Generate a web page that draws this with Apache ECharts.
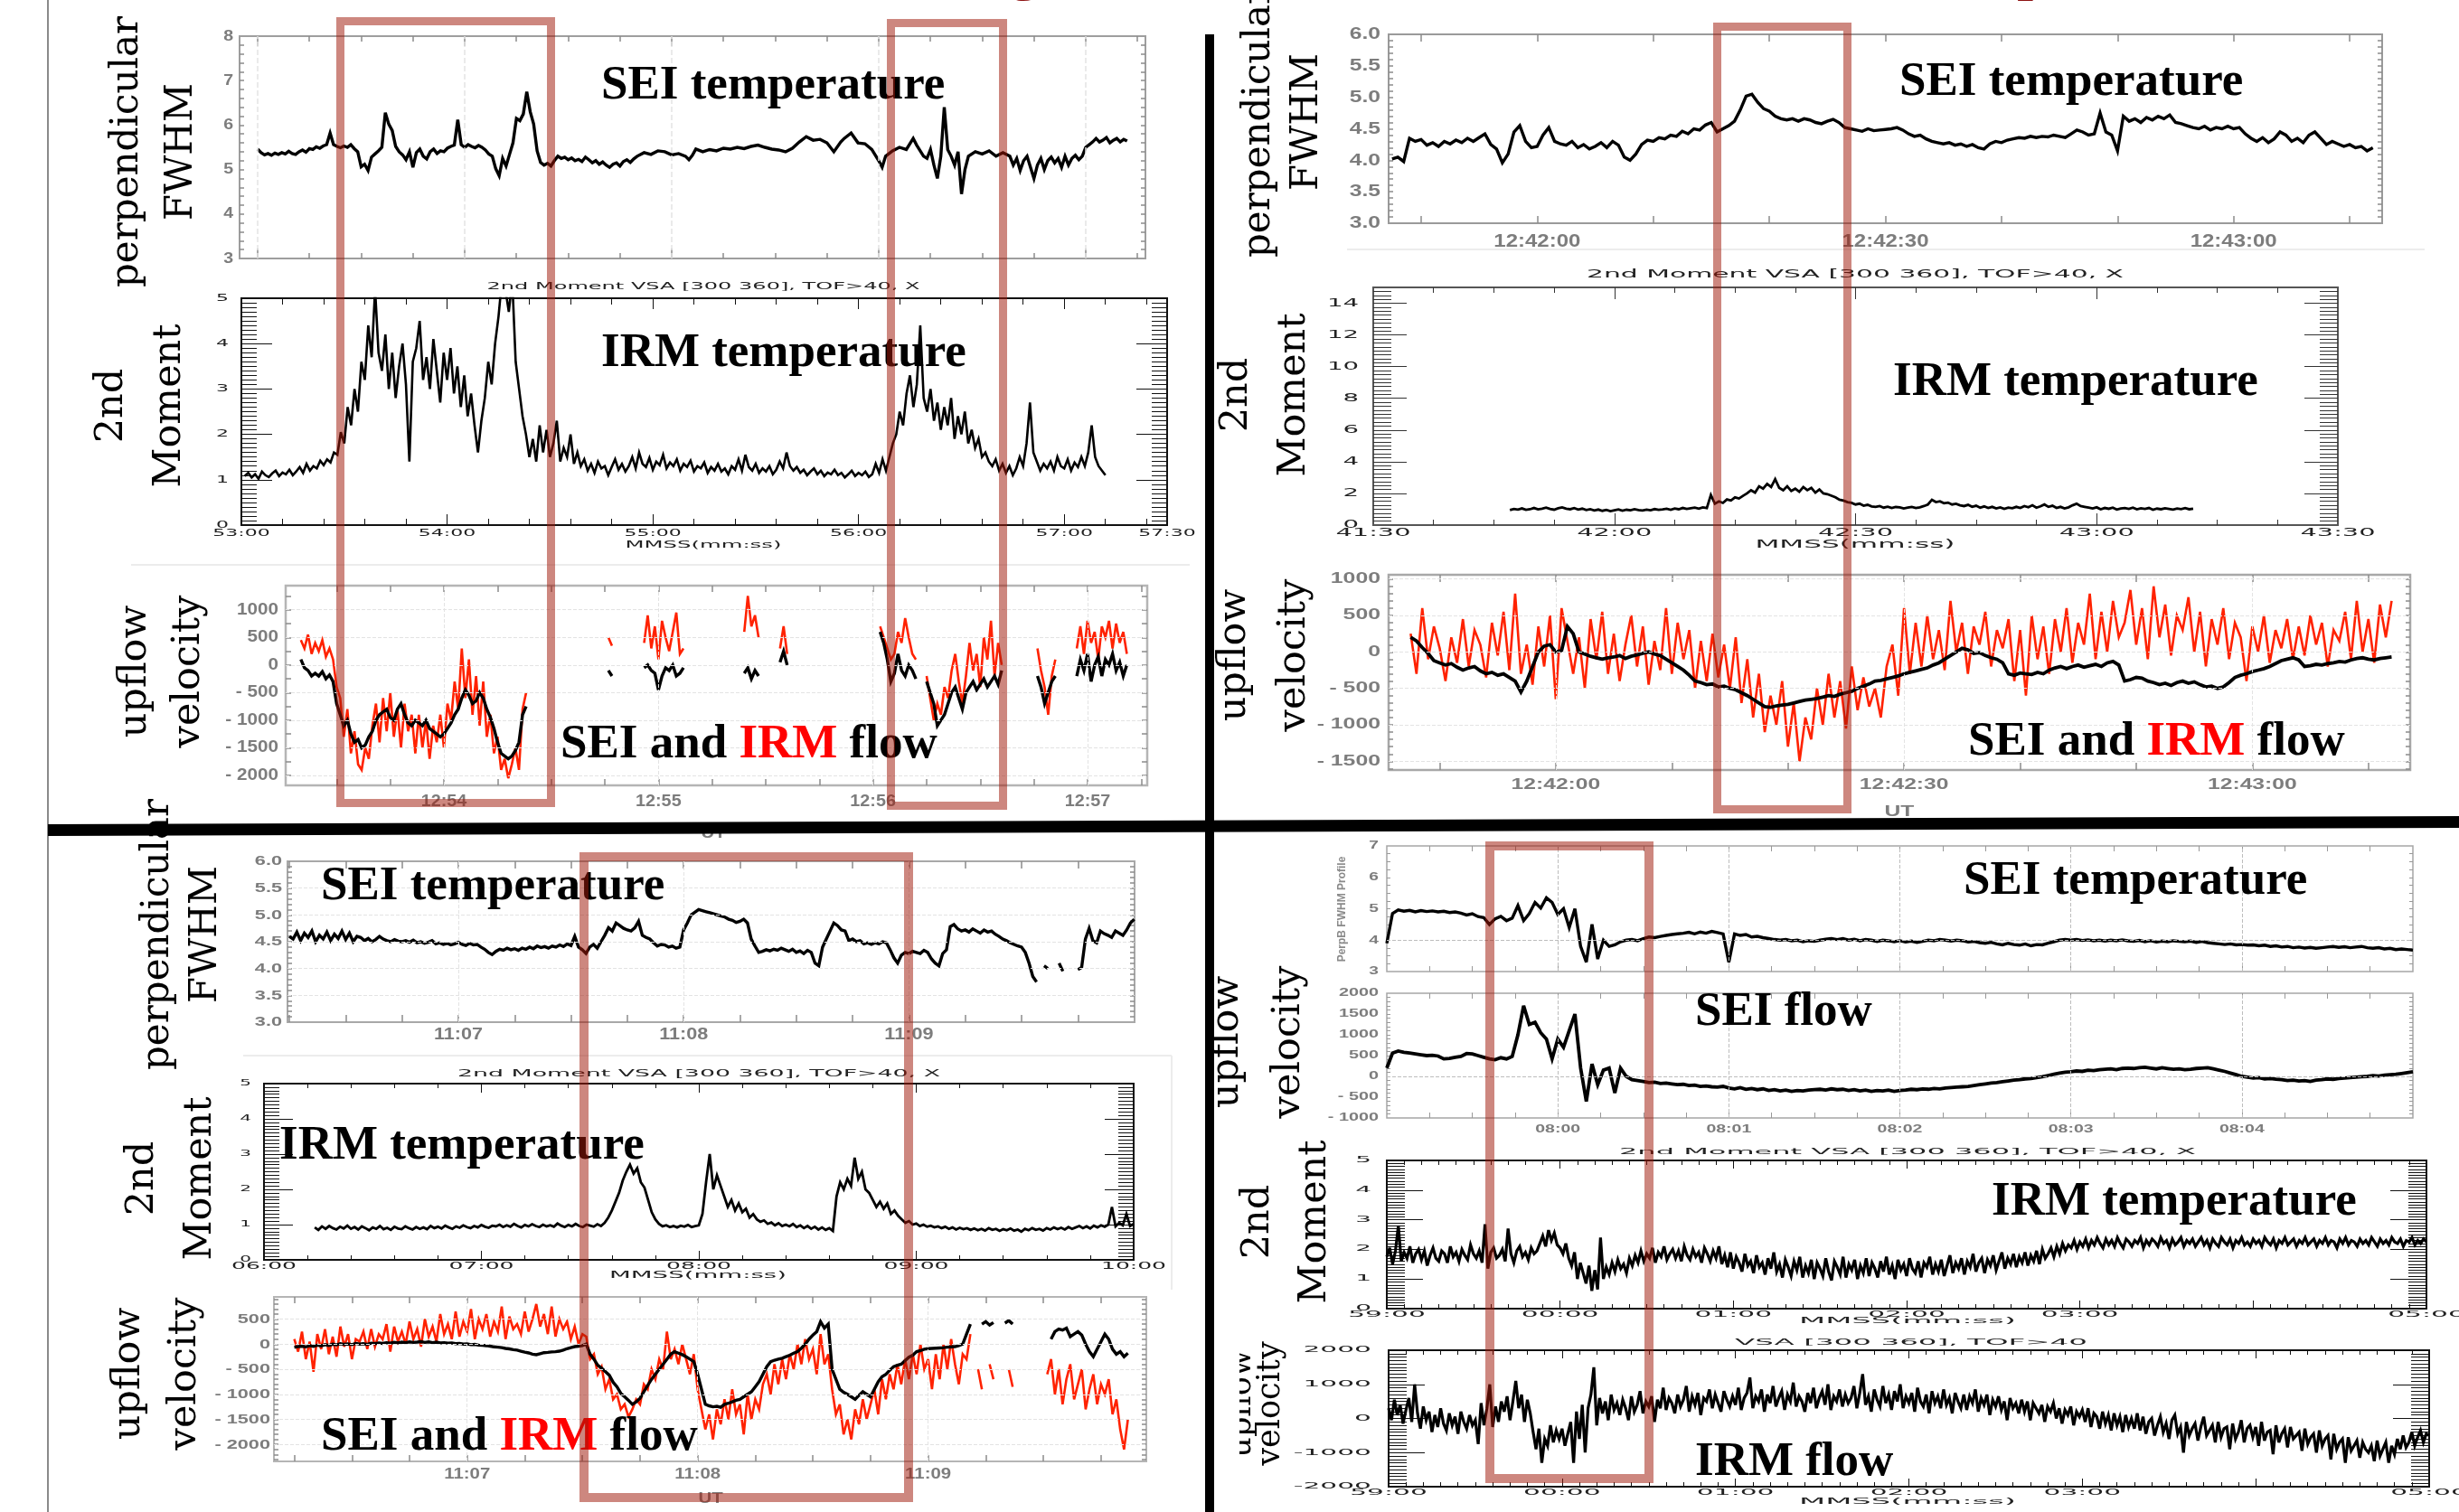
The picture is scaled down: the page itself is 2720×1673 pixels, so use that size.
<!DOCTYPE html>
<html>
<head>
<meta charset="utf-8">
<script src="https://cdn.jsdelivr.net/npm/echarts@6/dist/echarts.min.js"></script>
<style>
  html, body { margin: 0; padding: 0; background: #ffffff; }
  #chart { width: 2720px; height: 1673px; }
</style>
</head>
<body>
<div id="chart"></div>
<script>
// ===================== DATA =====================
// Times are seconds after each panel's reference minute.

// --- 12:53 event: SEI perpendicular FWHM (t since 12:53:00) ---
const tlSeiTemp = [[0,5.46],[1,5.38],[2,5.33],[3,5.36],[4,5.32],[5,5.37],[6,5.34],[7,5.38],[8,5.35],[9,5.41],[10,5.36],[11,5.34],[12,5.40],[13,5.44],[14,5.39],[15,5.47],[16,5.45],[17,5.51],[18,5.48],[19,5.53],[20,5.56],[21,5.82],[22,5.56],[23,5.52],[24,5.49],[25,5.53],[26,5.50],[27,5.56],[28,5.47],[29,5.40],[30,5.06],[31,5.12],[32,4.98],[33,5.28],[34,5.35],[35,5.42],[36,5.50],[37,6.28],[38,6.02],[39,5.88],[40,5.52],[41,5.40],[42,5.33],[43,5.22],[44,5.40],[45,5.05],[46,5.38],[47,5.46],[48,5.30],[49,5.24],[50,5.40],[51,5.46],[52,5.36],[53,5.42],[54,5.40],[55,5.48],[56,5.52],[57,5.55],[58,6.12],[59,5.56],[60,5.50],[61,5.56],[62,5.52],[63,5.49],[64,5.54],[65,5.50],[66,5.44],[67,5.35],[68,5.30],[69,5.02],[70,4.86],[71,5.25],[72,5.08],[73,5.34],[74,5.60],[75,6.15],[76,6.10],[77,6.25],[78,6.75],[79,6.30],[80,6.02],[81,5.42],[82,5.16],[83,5.10],[84,5.14],[85,5.08],[86,5.20],[87,5.30],[88,5.25],[89,5.28],[90,5.22],[91,5.26],[92,5.20],[93,5.23],[94,5.18],[95,5.28],[96,5.22],[97,5.15],[98,5.20],[99,5.12],[100,5.17],[101,5.10],[102,5.05],[103,5.12],[104,5.15],[105,5.08],[106,5.18],[107,5.22],[108,5.16],[109,5.24],[110,5.30],[112,5.38],[114,5.34],[116,5.42],[118,5.40],[120,5.33],[122,5.36],[124,5.30],[125,5.22],[126,5.32],[127,5.46],[129,5.40],[131,5.45],[133,5.42],[135,5.48],[137,5.46],[139,5.50],[141,5.47],[143,5.52],[145,5.55],[147,5.50],[149,5.46],[151,5.44],[153,5.40],[155,5.48],[157,5.62],[159,5.74],[161,5.66],[163,5.68],[165,5.60],[167,5.40],[169,5.62],[170,5.70],[172,5.82],[174,5.60],[176,5.58],[178,5.45],[180,5.20],[181,5.05],[182,5.30],[184,5.42],[186,5.50],[188,5.45],[190,5.70],[191,5.55],[193,5.30],[194,5.25],[195,5.45],[196,5.10],[197,4.80],[198,5.30],[199,6.40],[200,5.45],[201,5.30],[202,5.10],[203,5.40],[204,4.45],[205,5.00],[206,5.30],[208,5.40],[210,5.35],[212,5.42],[214,5.30],[216,5.38],[218,5.30],[219,5.10],[220,5.25],[221,4.98],[222,5.20],[223,5.30],[224,5.05],[225,4.80],[226,5.10],[227,5.25],[228,5.00],[229,5.20],[230,5.28],[231,5.15],[232,5.25],[233,5.05],[234,5.30],[235,5.10],[236,5.25],[237,5.32],[238,5.22],[239,5.30],[240,5.50],[241,5.56],[242,5.62],[243,5.70],[244,5.62],[245,5.66],[246,5.72],[247,5.60],[248,5.66],[249,5.70],[250,5.62],[251,5.68],[252,5.64]];

// --- 12:53 event: IRM 2nd moment (t since 53:00, 1 s samples from t=1) ---
const tlIrmTempStart = 1;
const tlIrmTemp = [1.08,1.15,1.05,1.12,1.02,1.18,1.10,1.06,1.14,1.20,1.08,1.16,1.12,1.22,1.10,1.18,1.28,1.15,1.35,1.20,1.30,1.25,1.42,1.32,1.45,1.38,
  1.60,1.55,2.05,1.80,2.60,2.20,3.00,2.50,3.60,3.20,4.40,3.70,5.20,3.80,
  3.40,4.20,3.00,3.80,2.80,3.50,4.00,3.10,1.40,3.60,3.90,4.50,3.20,3.70,3.00,4.10,3.40,2.70,3.80,3.20,3.90,2.90,3.50,2.60,3.30,2.40,2.90,2.20,1.60,2.30,
  2.80,3.60,3.10,4.00,4.60,5.40,5.20,4.70,5.40,3.60,3.00,2.40,2.00,1.50,1.90,1.40,2.20,1.60,2.10,1.50,
  1.80,2.30,1.40,1.70,1.50,2.00,1.35,1.60,1.30,1.45,
  1.20,1.35,1.15,1.40,1.25,1.30,1.10,1.28,1.45,1.22,1.35,1.18,1.30,1.50,1.25,1.60,1.35,1.28,1.48,1.22,1.40,1.32,1.55,1.25,1.38,1.30,1.45,1.20,1.35,1.28,1.42,1.18,1.30,1.25,1.38,
  1.15,1.28,1.20,1.35,1.18,1.25,1.12,1.30,1.22,1.45,1.20,1.55,1.28,1.20,1.35,1.15,1.25,1.18,1.30,1.12,1.22,1.40,1.25,1.60,1.30,1.20,1.28,1.15,1.22,1.10,1.18,1.25,1.12,1.20,1.08,1.16,1.12,1.22,1.10,1.15,1.05,1.12,1.20,1.08,1.15,1.10,1.18,1.06,1.12,1.35,1.15,1.45,1.20,1.50,1.80,
  2.00,2.50,2.20,2.90,3.30,2.60,3.10,4.40,2.80,2.50,3.00,2.30,2.70,2.10,2.60,2.20,2.80,1.90,2.40,2.00,2.50,1.80,2.10,1.70,1.90,
  1.50,1.60,1.40,1.30,1.45,1.20,1.35,1.15,1.30,1.10,1.25,1.50,1.30,1.80,2.70,1.60,1.40,1.20,1.35,1.25,1.40,1.20,1.50,1.30,1.25,1.45,1.20,1.38,1.28,1.50,1.30,1.60,2.20,1.50,1.30,1.20,1.10];

// --- 12:53 event: SEI (black) and IRM (red) upflow, 1 s samples in data segments ---
const tlFlowSegStart = [20, 106, 116, 144, 154, 182, 195, 226, 237];
const tlSeiFlowSegs = [
  [100,-50,-100,-200,-150,-200,-120,-250,-180,-300,-700,-900,-1100,-1000,-1250,-1400,-1350,-1500,-1450,-1300,-1200,-1000,-900,-850,-800,-950,-1000,-800,-700,-900,-1050,-1100,-1000,-1050,-1100,-1000,-1150,-1200,-1250,-1300,-1250,-1150,-1050,-900,-800,-600,-450,-550,-700,-650,-500,-600,-800,-950,-1150,-1400,-1600,-1650,-1700,-1650,-1550,-1400,-900,-750],
  [-100,-200],
  [-50,0,-100,-150,-450,-200,-50,-100,0,-200,-150,-50],
  [-150,-50,-250,-100,-200],
  [50,250,0],
  [600,400,100,-300,-150,200,-100,-200,0,-100,-250],
  [-300,-500,-700,-1100,-1000,-900,-700,-500,-400,-600,-800,-500,-400,-300,-450,-350,-250,-400,-300,-200,-350,-100],
  [-200,-400,-700,-500,-300,-200],
  [-200,100,-100,200,-300,0,150,-200,100,0,200,-100,50,-200,0]
];
const tlIrmFlowSegs = [
  [450,300,550,200,400,250,450,150,300,100,-400,-600,-1300,-800,-1600,-1200,-1800,-1900,-1500,-1700,-1100,-700,-1400,-600,-1200,-500,-1300,-800,-1500,-700,-1200,-900,-1600,-900,-1500,-1000,-1700,-1100,-1400,-900,-1500,-700,-1000,-300,-800,300,-600,100,-900,-200,-1100,-300,-1300,-900,-1600,-1300,-1900,-1700,-2050,-1800,-1500,-1900,-800,-500],
  [500,350],
  [400,900,300,700,100,800,500,250,600,950,200,300],
  [600,1250,700,900,500],
  [300,700,200],
  [700,500,300,100,200,600,400,850,500,200,100],
  [-200,-600,-1000,-700,-900,-400,-600,-100,200,-300,-700,-200,400,-100,200,-400,500,100,800,-200,400,0],
  [300,-100,-400,-900,-200,100],
  [300,700,200,800,400,600,100,700,500,800,300,750,400,600,200]
];
const tlFlowTicks = [60, 120, 180, 240];
const tlFlowTickLabels = ['12:54', '12:55', '12:56', '12:57'];
const tlIrmTicks = [0, 60, 120, 180, 240, 270];
const tlIrmTickLabels = ['53:00', '54:00', '55:00', '56:00', '57:00', '57:30'];

// --- 12:42 event (t since 12:42:00, 0.5 s samples) ---
const trSeiTempStart = -12.5;
const trSeiTemp = [4.02,4.05,3.98,4.35,4.30,4.33,4.24,4.28,4.22,4.30,4.26,4.32,4.28,4.35,4.30,4.36,
  4.42,4.25,4.18,3.96,4.10,4.45,4.55,4.30,4.20,4.22,
  4.40,4.52,4.30,4.26,4.24,4.30,4.20,4.25,4.18,4.22,4.28,4.20,4.30,4.24,4.05,4.00,
  4.10,4.25,4.32,4.30,4.36,4.34,4.40,4.38,4.46,4.42,4.50,4.48,4.56,4.60,
  4.45,4.50,4.55,4.62,4.80,5.02,5.05,4.92,4.82,4.78,4.70,4.66,4.64,4.66,
  4.62,4.66,4.64,4.60,4.58,4.62,4.65,4.60,4.52,4.50,4.48,4.46,4.50,4.47,4.48,4.49,
  4.50,4.52,4.48,4.42,4.38,4.40,4.34,4.30,4.28,4.26,4.28,4.24,4.26,4.22,4.25,4.20,4.18,4.26,4.30,4.28,
  4.32,4.34,4.36,4.35,4.38,4.36,4.38,4.37,4.40,4.38,4.36,4.42,4.48,4.45,4.40,4.42,4.75,4.45,
  4.40,4.15,4.70,4.62,4.66,4.60,4.68,4.64,4.70,4.66,4.72,4.60,4.58,4.55,
  4.52,4.50,4.54,4.48,4.52,4.50,4.54,4.50,4.52,4.42,4.35,4.30,4.36,4.28,4.34,4.45,
  4.40,4.30,4.35,4.28,4.40,4.45,4.35,4.25,4.30,4.26,4.22,4.25,4.20,4.22,4.15,4.20];
// IRM 2nd moment, t since 41:30
const trIrmTempStart = 17;
const trIrmTemp = [0.95,1.02,0.98,1.05,0.96,1.00,1.08,0.99,1.04,1.10,1.02,0.97,1.06,1.12,1.03,1.00,1.07,0.98,1.04,0.95,1.00,0.92,0.98,0.90,0.96,0.88,0.94,0.99,0.91,0.97,0.93,1.00,0.95,0.92,0.98,0.94,1.01,0.96,0.99,1.03,0.97,1.05,1.00,1.08,1.02,1.06,1.10,1.04,1.12,1.08,
  1.90,1.35,1.50,1.40,1.62,1.55,1.75,1.68,1.85,2.00,2.20,2.05,2.45,2.30,2.60,2.40,
  2.90,2.35,2.20,2.45,2.15,2.30,2.10,2.40,2.20,2.35,2.05,2.25,2.00,
  1.95,1.85,1.75,1.60,1.55,1.45,1.40,1.30,1.35,1.22,1.28,1.18,
  1.15,1.20,1.10,1.16,1.08,1.14,1.12,1.05,1.10,1.15,1.08,1.12,1.20,1.30,
  1.60,1.45,1.50,1.38,1.42,1.30,1.35,1.25,1.20,1.28,1.15,1.22,
  1.10,1.18,1.08,1.15,1.05,1.12,1.02,1.10,1.06,1.15,1.08,1.20,1.12,1.25,1.10,1.18,1.30,1.15,1.22,1.08,1.15,1.05,1.12,1.25,1.35,1.20,
  1.15,1.10,1.05,1.12,1.00,1.08,1.03,1.10,0.98,1.05,1.08,1.02,1.10,0.99,1.06,1.02,1.08,0.97,1.04,1.00,1.06,1.02,0.98,1.05,1.01,1.07,1.00,1.04];
const trFlowStart = -12.5;
const trSeiFlow = [200,150,60,-20,-120,-150,-180,-160,-210,-250,
  -220,-200,-260,-300,-280,-320,-300,-350,-400,-550,
  -400,-200,0,80,100,0,20,350,250,0,
  -30,-60,-80,-100,-80,-70,-50,-90,-60,-40,
  -20,0,-30,-50,-100,-150,-200,-250,-320,-400,
  -420,-450,-440,-480,-470,-500,-520,-560,-600,-650,
  -700,-750,-760,-740,-730,-720,-700,-680,-660,-650,
  -640,-620,-600,-610,-580,-560,-540,-500,-470,-440,
  -400,-390,-370,-350,-330,-300,-280,-260,-240,-220,
  -180,-150,-100,-50,0,50,30,-20,-10,-50,
  -80,-100,-150,-300,-320,-290,-300,-310,-280,-300,
  -250,-220,-200,-230,-200,-180,-210,-190,-170,-200,
  -150,-130,-180,-400,-380,-350,-360,-400,-420,-450,
  -430,-460,-420,-400,-430,-410,-450,-480,-470,-500,
  -480,-420,-350,-320,-300,-270,-250,-230,-200,-160,
  -120,-100,-80,-110,-200,-190,-170,-180,-160,-150,
  -130,-140,-110,-90,-80,-100,-110,-90,-80,-70];
const trIrmFlow = [250,-300,600,-100,350,50,-400,200,-150,450,
  -200,300,100,-350,400,-50,550,-250,800,-300,
  100,-450,350,-200,500,-650,600,150,-300,200,
  -500,450,-100,550,-300,250,-400,100,500,-200,
  350,-450,150,-250,600,-300,400,-100,300,-500,
  150,-400,250,-350,100,-500,200,-700,-100,-900,
  -300,-1100,-600,-1000,-400,-1300,-700,-1500,-900,-1200,
  -500,-1000,-300,-900,-400,-1050,-200,-800,-350,-750,
  -500,-900,-200,100,-600,600,-300,400,-200,500,
  -100,300,-250,700,0,400,-300,350,100,550,
  -200,300,50,450,-400,300,-600,500,-100,350,
  -300,450,0,600,-150,400,100,800,-100,550,
  0,700,200,400,850,100,600,-100,900,200,
  650,-50,500,300,750,0,550,-200,450,100,
  600,-100,400,200,-400,350,0,500,-150,300,
  50,450,-100,350,-50,500,100,400,-200,300,
  150,550,-100,700,0,450,-150,650,200,700];
const trTimeTicks = [0, 30, 60];
const trTimeLabels = ['12:42:00', '12:42:30', '12:43:00'];
const trIrmTicks = [0, 30, 60, 90, 120];
const trIrmTickLabels = ['41:30', '42:00', '42:30', '43:00', '43:30'];

// --- 11:07 event (t since 11:07:00, 1 s samples) ---
const blSeiTempStart = -45;
const blSeiTemp = [4.60,4.55,4.68,4.52,4.66,4.58,4.70,4.50,4.62,4.55,
  4.68,4.52,4.64,4.56,4.70,4.54,4.66,4.50,4.60,4.58,
  4.52,4.56,4.50,4.54,4.60,4.55,4.52,4.50,4.54,4.51,
  4.50,4.52,4.49,4.53,4.48,4.50,4.47,4.49,4.52,4.46,
  4.48,4.45,4.47,4.44,4.46,4.49,4.45,4.43,4.47,4.44,
  4.45,4.40,4.36,4.30,4.26,4.32,4.36,4.34,4.38,4.35,
  4.37,4.34,4.38,4.36,4.40,4.37,4.42,4.39,4.41,4.38,
  4.42,4.40,4.44,4.41,4.46,4.43,4.60,4.40,4.35,4.28,
  4.40,4.45,4.38,4.50,4.62,4.76,4.70,4.85,4.80,4.75,
  4.72,4.70,4.76,4.88,4.62,4.58,4.55,4.48,4.42,4.45,
  4.44,4.40,4.42,4.38,4.40,4.72,4.85,5.00,5.05,5.10,
  5.08,5.06,5.04,5.02,5.00,4.98,4.96,4.92,4.90,4.86,
  4.88,4.92,4.85,4.55,4.42,4.30,4.32,4.35,4.33,4.36,
  4.34,4.38,4.35,4.32,4.36,4.30,4.33,4.28,4.34,4.30,
  4.10,4.05,4.40,4.55,4.70,4.85,4.80,4.72,4.70,4.52,
  4.55,4.50,4.52,4.46,4.48,4.45,4.48,4.46,4.50,4.48,
  4.35,4.20,4.10,4.25,4.30,4.28,4.32,4.30,4.28,4.34,
  4.30,4.18,4.10,4.05,4.28,4.35,4.78,4.82,4.74,4.70,
  4.72,4.68,4.74,4.70,4.66,4.72,4.68,4.70,4.64,4.60,
  4.55,4.52,4.48,4.45,4.42,4.40,4.30,4.10,3.85,3.75,
  null,4.05,4.00,null,null,4.10,3.95,null,4.05,null,
  3.98,4.02,4.55,4.75,4.52,4.48,4.70,4.65,4.62,4.58,
  4.70,4.66,4.62,4.72,4.85,4.92];
// IRM 2nd moment, t since 06:00
const blIrmTempStart = 14;
const blIrmTemp = [0.92,0.85,0.95,0.88,0.96,0.90,0.86,0.94,0.89,0.97,
  0.88,0.93,0.86,0.95,0.90,0.84,0.92,0.88,0.96,0.87,
  0.91,0.85,0.94,0.89,0.87,0.95,0.90,0.86,0.93,0.88,
  0.92,0.87,0.96,0.90,0.94,0.89,0.97,0.92,0.88,0.95,
  0.91,0.98,0.93,0.90,0.96,0.92,0.99,0.94,0.91,0.97,
  0.95,1.00,0.93,0.98,0.94,1.02,0.96,0.92,0.99,0.95,
  1.01,0.96,0.93,1.00,0.95,0.98,0.94,1.03,0.97,0.93,
  0.99,0.95,1.02,0.96,0.93,1.00,0.97,0.94,1.01,0.96,
  1.05,1.20,1.40,1.65,1.90,2.25,2.50,2.70,2.45,2.60,
  2.20,2.05,1.70,1.35,1.15,1.02,0.95,0.98,0.93,0.96,
  0.92,0.97,0.94,0.99,0.93,0.96,0.98,1.30,2.20,3.00,
  2.00,2.40,2.10,1.80,1.50,1.70,1.40,1.60,1.35,1.45,
  1.20,1.30,1.15,1.08,1.12,1.02,1.06,0.98,1.04,0.96,
  1.00,0.95,1.02,0.93,0.98,0.90,0.96,0.88,0.94,0.86,
  0.92,0.85,0.90,0.82,1.80,2.20,2.00,2.30,2.10,2.90,
  2.30,2.50,2.00,1.90,1.70,1.50,1.65,1.45,1.60,1.30,
  1.40,1.25,1.15,1.05,1.10,1.00,1.03,0.96,1.00,0.94,
  0.97,0.92,0.95,0.90,0.94,0.88,0.92,0.86,0.91,0.87,
  0.90,0.85,0.89,0.84,0.88,0.83,0.90,0.85,0.88,0.82,
  0.87,0.84,0.89,0.83,0.86,0.80,0.88,0.84,0.90,0.85,
  0.88,0.83,0.90,0.86,0.92,0.87,0.91,0.86,0.93,0.88,
  0.92,0.96,0.90,0.95,0.89,0.97,0.92,0.98,0.94,1.00,
  1.50,0.95,1.05,0.98,1.30,0.96,1.02];
const blFlowSegStart = [-45, 133, 151];
const blSeiFlowSegs = [
  [-60,-50,-40,-55,-30,-45,-20,-35,-10,-25,0,-15,10,-5,5,-10,15,0,10,-5,20,10,25,15,30,20,35,25,40,30,45,35,40,50,35,45,30,40,25,30,20,25,10,15,0,5,-10,-5,-20,-25,-30,-40,-55,-60,-70,-85,-95,-110,-120,-140,-160,-175,-200,-210,-190,-170,-165,-155,-150,-140,-120,-90,-70,-50,-40,-30,0,-200,-300,-420,-480,-550,-620,-760,-850,-980,-1050,-1120,-1200,-1150,-1080,-950,-820,-700,-600,-500,-400,-300,-200,-150,-180,-210,-250,-300,-350,-600,-900,-1200,-1230,-1250,-1240,-1260,-1200,-1180,-1150,-1120,-1100,-1050,-1000,-950,-850,-750,-600,-450,-350,-320,-300,-280,-250,-220,-180,-150,-80,0,100,180,250,450,320,400,-500,-700,-900,-960,-1000,-1050,-1100,-1020,-950,-1000,-1050,-900,-750,-650,-600,-520,-450,-420,-400,-330,-260,-220,-150,-130,-100,-90,-85,-80,-75,-70,-60,-55,-50,-30,0,200,400],
  [null,400,450,380,430,null,null,420,470,400,null],
  [null,100,250,300,280,320,150,200,250,180,0,-150,-250,-100,50,200,100,-100,-200,-150,-250,-180]
];
const blIrmFlowSegs = [
  [100,-150,250,-300,50,-550,200,-100,300,-200,150,-250,350,-50,200,-300,100,50,250,-100,300,-50,200,100,400,-150,350,50,250,0,450,100,300,-50,500,150,350,50,600,200,400,100,650,150,450,250,700,100,500,300,600,150,450,250,750,100,550,300,400,200,650,250,500,800,350,600,200,750,150,500,300,450,100,350,0,200,150,-300,-200,-600,-450,-900,-700,-1100,-1000,-1300,-1200,-1450,-1300,-1100,-1200,-800,-900,-500,-700,-300,-500,250,-300,-100,-400,0,-300,-600,-200,-900,-1300,-1700,-1400,-1900,-1300,-1600,-1100,-1500,-900,-1400,-1200,-1800,-1000,-1500,-1100,-1300,-800,-600,-1000,-400,-800,-300,-700,-200,-500,0,-400,100,-300,-100,-600,200,-400,-200,-900,-1400,-1200,-1800,-1500,-1900,-1300,-1600,-1100,-1500,-1200,-900,-1400,-700,-1100,-600,-900,-400,-800,-300,-700,-200,-600,0,-500,-300,-900,-200,-700,0,-500,100,-400,-800,-200,-300,200],
  [-500,-900,null,-400,-700,null,null,null,-500,-850,null],
  [-600,-300,-1000,-500,-1200,-700,-400,-1100,-800,-500,-1300,-900,-600,-1200,-800,-1000,-700,-1400,-1100,-1700,-2100,-1500]
];
const blTimeTicks = [0, 60, 120];
const blTimeLabels = ['11:07', '11:08', '11:09'];
const blIrmTicks = [0, 60, 120, 180, 240];
const blIrmTickLabels = ['06:00', '07:00', '08:00', '09:00', '10:00'];

// --- 08:00 event (t since 07:59:00 / 59:00) ---
const brSeiStart = 0, brSeiStep = 2;
const brSeiTemp = [3.90,4.85,4.96,4.92,4.95,4.90,4.94,4.91,4.93,4.90,
  4.92,4.88,4.90,4.86,4.80,4.84,4.75,4.72,4.50,4.68,
  4.76,4.62,4.70,5.10,4.62,4.85,5.20,5.02,5.35,5.20,
  4.82,5.00,4.40,5.00,3.80,3.30,4.50,3.40,4.00,3.80,
  3.85,3.95,4.00,4.02,3.98,4.05,4.10,4.08,4.12,4.15,
  4.18,4.20,4.22,4.25,4.20,4.26,4.22,4.28,4.24,4.20,
  3.30,4.20,4.15,4.18,4.10,4.12,4.08,4.05,4.02,4.00,
  4.02,3.98,4.00,3.95,3.98,3.96,4.00,4.03,4.05,4.02,
  4.05,4.00,4.03,3.98,4.02,4.00,3.96,4.00,3.98,3.95,
  3.98,3.94,3.97,3.93,3.96,4.00,3.98,4.02,4.00,3.97,
  4.00,3.98,3.94,3.96,3.92,3.90,3.93,3.88,3.85,3.90,
  3.86,3.84,3.88,3.82,3.86,3.85,3.90,3.95,4.00,4.02,
  4.00,4.02,3.99,4.01,3.98,4.00,3.97,4.00,3.98,4.01,
  3.98,3.96,3.99,3.95,3.98,3.94,3.97,3.95,3.98,3.96,
  3.95,3.97,3.93,3.96,3.92,3.90,3.88,3.86,3.88,3.85,
  3.86,3.84,3.85,3.82,3.84,3.80,3.82,3.78,3.80,3.76,
  3.78,3.75,3.77,3.74,3.76,3.78,3.80,3.77,3.79,3.76,
  3.78,3.80,3.76,3.74,3.76,3.72,3.74,3.70,3.72,3.70,
  3.68];
const brSeiFlow = [200,560,610,580,560,540,520,500,510,490,
  420,430,460,480,550,540,500,460,420,400,
  450,420,480,1000,1700,1250,1300,1050,900,420,
  900,700,1100,1500,200,-600,300,-200,150,200,
  -400,200,0,-80,-100,-120,-150,-140,-170,-160,
  -180,-200,-190,-220,-210,-240,-230,-250,-260,-240,
  -280,-300,-270,-310,-290,-320,-300,-340,-320,-350,
  -330,-360,-340,-350,-330,-320,-310,-330,-300,-320,
  -310,-340,-320,-350,-330,-360,-340,-350,-330,-360,
  -340,-330,-310,-320,-300,-310,-290,-300,-280,-270,
  -260,-250,-240,-220,-200,-180,-160,-150,-130,-110,
  -90,-80,-60,-50,-30,-10,20,50,80,100,
  110,130,120,150,140,160,170,180,160,190,
  200,190,210,220,200,180,210,190,170,180,
  160,170,190,200,210,180,150,120,80,40,
  0,-20,-40,-30,-60,-50,-70,-80,-100,-90,
  -110,-100,-120,-90,-80,-60,-70,-50,-40,-30,
  -20,-10,0,20,10,30,40,50,70,90,
  110];
// IRM moments, t since 59:00, 1 s samples
const brIrmStart = 0, brIrmStep = 1;
const brIrmTemp = [1.75,2.05,1.50,1.95,2.80,1.60,1.90,1.70,2.10,1.55,1.85,2.00,1.65,1.95,1.45,1.80,2.05,1.70,1.60,1.95,
  1.85,1.55,2.10,1.75,1.90,1.60,2.00,1.80,1.65,2.15,1.85,1.70,1.95,1.55,2.85,1.35,1.90,2.05,1.70,1.80,
  2.00,1.60,2.70,1.85,1.55,1.95,2.10,1.75,1.90,1.65,2.05,1.85,1.95,2.20,2.45,2.10,2.65,2.30,2.55,2.15,
  2.05,1.85,2.20,1.70,1.45,1.90,1.00,1.55,1.20,0.85,1.45,0.60,1.30,0.65,2.40,1.00,1.40,1.15,1.55,1.25,
  1.65,1.35,1.50,1.20,1.70,1.45,1.80,1.55,1.95,1.60,1.85,1.70,2.05,1.55,1.90,1.75,2.10,1.65,1.85,2.00,
  1.70,1.95,1.60,2.10,1.80,1.65,2.00,1.75,1.90,1.55,2.05,1.85,1.60,1.95,1.70,2.10,1.50,1.80,1.40,1.90,
  1.35,1.75,1.55,1.25,1.85,1.45,1.60,1.20,1.80,1.40,1.55,1.15,1.70,1.35,1.90,1.25,1.50,1.05,1.65,1.40,
  1.10,1.60,1.30,1.75,1.05,1.45,1.20,1.65,1.00,1.55,1.35,1.10,1.70,1.25,0.95,1.60,1.40,1.15,1.75,1.05,
  1.50,1.30,1.65,1.00,1.45,1.20,1.70,1.10,1.55,1.35,1.05,1.60,1.25,1.75,1.15,1.45,1.00,1.65,1.30,1.50,
  1.10,1.70,1.35,1.20,1.60,1.05,1.55,1.40,1.75,1.15,1.50,1.25,1.65,1.10,1.45,1.80,1.20,1.55,1.35,1.70,
  1.15,1.60,1.40,1.85,1.25,1.55,1.70,1.20,1.65,1.45,1.80,1.30,1.60,1.90,1.35,1.70,1.50,1.85,1.40,1.75,
  1.55,1.90,1.45,1.80,1.60,1.95,1.50,2.00,1.70,1.85,2.05,1.75,2.10,1.85,2.20,1.95,2.15,2.05,2.30,2.00,
  2.25,2.10,2.35,2.05,2.30,2.15,2.40,2.20,2.05,2.35,2.15,2.30,2.10,2.40,2.20,2.05,2.35,2.25,2.10,2.30,
  2.20,2.40,2.05,2.30,2.15,2.35,2.25,2.10,2.40,2.20,2.30,2.05,2.35,2.15,2.25,2.40,2.10,2.30,2.20,2.35,
  2.10,2.25,2.40,2.15,2.30,2.05,2.35,2.20,2.10,2.40,2.25,2.15,2.35,2.05,2.30,2.20,2.40,2.15,2.25,2.10,
  2.35,2.20,2.30,2.10,2.40,2.25,2.15,2.35,2.05,2.30,2.20,2.40,2.15,2.25,2.35,2.10,2.30,2.20,2.40,2.15,
  2.25,2.35,2.10,2.30,2.20,2.40,2.15,2.30,2.25,2.05,2.35,2.20,2.40,2.15,2.30,2.25,2.10,2.35,2.20,2.30,
  2.15,2.40,2.25,2.10,2.35,2.20,2.30,2.15,2.40,2.25,2.20,2.35,2.10,2.30,2.25,2.40,2.15,2.30,2.20,2.35,
  2.25];
const brIrmFlow = [300,-50,550,100,400,-150,250,600,-100,1000,150,-300,350,-50,200,-400,100,-250,300,-150,
  -350,150,-200,50,-450,200,-100,-300,100,-200,-50,-750,450,-200,300,1000,-250,350,-100,500,
  200,650,-50,500,1100,300,700,-100,550,150,-400,-900,-300,-1300,-600,-800,-200,-700,-350,-600,
  -300,-800,-450,-100,-1300,200,-600,400,-1000,300,700,1500,-200,600,150,500,-50,700,250,450,
  100,550,300,-50,650,200,400,800,150,500,350,650,-100,550,300,900,250,600,450,150,
  700,350,550,950,200,650,400,750,100,600,500,850,300,700,450,200,800,550,350,650,
  400,900,250,600,750,1200,300,650,500,850,200,700,450,950,350,600,800,250,700,500,
  1050,350,650,500,200,750,450,900,300,600,800,400,1000,250,650,500,850,350,700,450,
  600,950,300,750,1300,400,650,200,850,550,350,950,450,700,250,800,500,1000,300,650,
  450,750,200,900,500,350,700,150,800,450,650,300,850,400,600,150,750,500,300,700,
  250,650,450,850,200,600,400,700,100,550,350,650,250,500,-50,600,300,450,150,550,
  200,500,-50,450,300,150,400,-100,350,200,450,0,300,-150,250,100,350,-200,200,50,
  250,-100,300,-250,150,50,-300,200,-150,100,-350,150,-200,50,-400,100,-250,0,-300,150,
  -350,50,-450,-100,0,-500,-200,50,-400,-150,-600,-50,100,-450,-250,-1000,-100,-500,-300,-150,
  -650,-250,50,-500,-350,-200,-700,-100,-550,-300,-250,-900,-150,-600,-400,-50,-700,-300,-200,-550,
  -250,-800,-100,-650,-400,-350,-1050,-200,-700,-450,-300,-850,-250,-600,-500,-400,-950,-300,-750,-550,
  -450,-1000,-350,-800,-600,-500,-1200,-450,-900,-700,-600,-1300,-550,-950,-800,-650,-1150,-700,-900,-1000,
  -800,-1250,-650,-1100,-900,-700,-1300,-800,-1050,-600,-900,-500,-850,-700,-400,-800,-550,-350,-700,-450,
  -500];
const brUtTicks = [60, 120, 180, 240, 300];
const brUtLabels = ['08:00', '08:01', '08:02', '08:03', '08:04'];
const brIrmTicks = [0, 60, 120, 180, 240, 360];
const brIrmTickLabels = ['59:00', '00:00', '01:00', '02:00', '03:00', '05:00'];

// ===================== HELPERS =====================
const seq = (a, b, s) => { const out = []; for (let v = a; v <= b + 1e-9; v += s) out.push(Math.round(v * 1e6) / 1e6); return out; };
const uniform = (start, step, vals) => vals.map((v, i) => [start + i * step, v == null ? '-' : v]);
const pairs = (list) => list.map(p => [p[0], p[1]]);
const segments = (starts, segs) => {
  const out = [];
  segs.forEach((s, k) => {
    s.forEach((v, i) => out.push([starts[k] + i, v == null ? '-' : v]));
    out.push([starts[k] + s.length - 0.5, '-']);
  });
  return out;
};
const minusLabel = v => (v < 0 ? '- ' + Math.abs(v) : String(v));

const option = { animation: false, backgroundColor: '#ffffff', grid: [], xAxis: [], yAxis: [], series: [] };

function addPanel(cfg) {
  const gi = option.grid.length;
  option.grid.push({ left: cfg.box[0], top: cfg.box[1], width: cfg.box[2], height: cfg.box[3],
    show: true, borderColor: cfg.frame, borderWidth: cfg.frameWidth, backgroundColor: 'transparent' });
  let xi = -1, yi = -1;
  cfg.ticks.forEach(([dim, pos, vals, len]) => {
    const isX = dim === 'x';
    const list = isX ? option.xAxis : option.yAxis;
    const ext = isX ? cfg.x : cfg.y;
    if (isX && xi < 0) xi = list.length;
    if (!isX && yi < 0) yi = list.length;
    list.push({
      type: 'value', gridIndex: gi, position: pos, min: ext[0], max: ext[1], silent: true,
      axisLine: { show: false, onZero: false },
      axisLabel: { show: false },
      splitLine: { show: false },
      minorTick: { show: false },
      axisTick: { show: true, inside: true, length: len,
        customValues: vals.filter(v => v > ext[0] && v < ext[1]),
        lineStyle: { color: cfg.tickColor, width: cfg.tickWidth } }
    });
  });
  return { gi, xi, yi, x: cfg.x, y: cfg.y };
}

function addLine(p, data, color, width, gridLines) {
  const s = { type: 'line', xAxisIndex: p.xi, yAxisIndex: p.yi, data, symbol: 'none', showSymbol: false,
    silent: true, animation: false, clip: true, connectNulls: false, lineStyle: { color, width, join: 'miter', miterLimit: 4 }, z: 3 };
  if (gridLines) {
    s.markLine = { silent: true, symbol: ['none', 'none'], animation: false, label: { show: false },
      lineStyle: { color: gridLines.color, type: 'dashed', width: gridLines.width || 1 },
      data: [...(gridLines.xs || []).map(v => ({ xAxis: v })), ...(gridLines.ys || []).map(v => ({ yAxis: v }))] };
  }
  option.series.push(s);
}

const RED = '#ff2200';
const GRAYTICK = '#8c8c8c';

// ===================== PANELS =====================
// 12:53 event
const A1 = addPanel({ box: [265, 40, 1002, 246], x: [-5.24, 257.3], y: [3, 8], frame: '#9e9e9e', frameWidth: 2, tickColor: GRAYTICK, tickWidth: 1.5,
  ticks: [['x', 'bottom', seq(0, 255, 15), 6], ['x', 'bottom', seq(0, 240, 60), 11], ['x', 'top', seq(0, 255, 15), 6], ['x', 'top', seq(0, 240, 60), 11],
          ['y', 'left', seq(3.2, 7.8, 0.2), 5], ['y', 'right', seq(3.2, 7.8, 0.2), 5]] });
const A2 = addPanel({ box: [267, 330, 1024, 251], x: [0, 270], y: [0, 5], frame: '#111111', frameWidth: 2, tickColor: '#111', tickWidth: 1,
  ticks: [['x', 'bottom', seq(12, 264, 12), 7], ['x', 'bottom', seq(60, 240, 60), 12], ['x', 'top', seq(12, 264, 12), 7], ['x', 'top', seq(60, 240, 60), 12],
          ['y', 'left', seq(0.1, 4.9, 0.1), 17], ['y', 'left', [1, 2, 3, 4], 34], ['y', 'right', seq(0.1, 4.9, 0.1), 17], ['y', 'right', [1, 2, 3, 4], 34]] });
const A3 = addPanel({ box: [316, 648, 953, 221], x: [15.75, 256.7], y: [-2180, 1437], frame: '#b5b5b5', frameWidth: 2.5, tickColor: GRAYTICK, tickWidth: 1.5,
  ticks: [['x', 'bottom', seq(30, 255, 15), 7], ['x', 'top', seq(30, 255, 15), 7], ['y', 'left', seq(-2000, 1250, 250), 6], ['y', 'right', seq(-2000, 1250, 250), 6]] });

// 12:42 event
const B1 = addPanel({ box: [1536, 38, 1099, 209], x: [-12.8, 72.8], y: [3, 6], frame: '#9a9a9a', frameWidth: 2, tickColor: GRAYTICK, tickWidth: 1.5,
  ticks: [['x', 'bottom', seq(-10, 70, 10), 8], ['x', 'top', seq(-10, 70, 10), 8], ['y', 'left', seq(3.1, 5.9, 0.1), 5], ['y', 'right', seq(3.1, 5.9, 0.1), 5]] });
const B2 = addPanel({ box: [1519, 318, 1067, 263], x: [0, 120], y: [0, 15], frame: '#555555', frameWidth: 2, tickColor: '#333', tickWidth: 1,
  ticks: [['x', 'bottom', seq(7.5, 112.5, 7.5), 6], ['x', 'bottom', [30, 60, 90], 13], ['x', 'top', seq(7.5, 112.5, 7.5), 6], ['x', 'top', [30, 60, 90], 13],
          ['y', 'left', seq(0.25, 14.75, 0.25), 20], ['y', 'left', seq(2, 14, 2), 37], ['y', 'right', seq(0.25, 14.75, 0.25), 20], ['y', 'right', seq(2, 14, 2), 37]] });
const B3 = addPanel({ box: [1536, 636, 1130, 216], x: [-14.4, 73.6], y: [-1620, 1058], frame: '#a8a8a8', frameWidth: 2.5, tickColor: GRAYTICK, tickWidth: 1.5,
  ticks: [['x', 'bottom', seq(-10, 70, 10), 8], ['x', 'top', seq(-10, 70, 10), 8], ['y', 'left', seq(-1600, 1000, 100), 5], ['y', 'right', seq(-1600, 1000, 100), 5]] });

// 11:07 event
const C1 = addPanel({ box: [318, 953, 937, 178], x: [-45.5, 180.1], y: [3, 6], frame: '#a8a8a8', frameWidth: 2, tickColor: GRAYTICK, tickWidth: 1.5,
  ticks: [['x', 'bottom', seq(-45, 165, 15), 8], ['x', 'top', seq(-45, 165, 15), 8], ['y', 'left', seq(3.1, 5.9, 0.1), 5], ['y', 'right', seq(3.1, 5.9, 0.1), 5]] });
const C2 = addPanel({ box: [292, 1199, 962, 195], x: [0, 240], y: [0, 5], frame: '#111111', frameWidth: 2, tickColor: '#111', tickWidth: 1,
  ticks: [['x', 'bottom', seq(12, 228, 12), 5], ['x', 'bottom', [60, 120, 180], 10], ['x', 'top', seq(12, 228, 12), 5], ['x', 'top', [60, 120, 180], 10],
          ['y', 'left', seq(0.1, 4.9, 0.1), 17], ['y', 'left', [1, 2, 3, 4], 32], ['y', 'right', seq(0.1, 4.9, 0.1), 17], ['y', 'right', [1, 2, 3, 4], 32]] });
const C3 = addPanel({ box: [303, 1435, 965, 182], x: [-50.3, 176.8], y: [-2338, 942], frame: '#b5b5b5', frameWidth: 2, tickColor: GRAYTICK, tickWidth: 1.5,
  ticks: [['x', 'bottom', seq(-45, 165, 15), 7], ['x', 'top', seq(-45, 165, 15), 7], ['y', 'left', seq(-2300, 900, 100), 5], ['y', 'right', seq(-2300, 900, 100), 5]] });

// 08:00 event
const D1 = addPanel({ box: [1534, 936, 1135, 139], x: [0, 360], y: [3, 7], frame: '#a6a6a6', frameWidth: 1.5, tickColor: '#999', tickWidth: 1,
  ticks: [['x', 'bottom', seq(15, 345, 15), 6], ['x', 'top', seq(15, 345, 15), 6], ['y', 'left', seq(3.25, 6.75, 0.25), 4], ['y', 'right', seq(3.25, 6.75, 0.25), 4]] });
const D2 = addPanel({ box: [1534, 1099, 1135, 138], x: [0, 360], y: [-1000, 2000], frame: '#a6a6a6', frameWidth: 1.5, tickColor: '#999', tickWidth: 1,
  ticks: [['x', 'bottom', seq(15, 345, 15), 6], ['x', 'top', seq(15, 345, 15), 6], ['y', 'left', seq(-900, 1900, 100), 4], ['y', 'right', seq(-900, 1900, 100), 4]] });
const D3 = addPanel({ box: [1534, 1284, 1150, 164], x: [0, 360], y: [0, 5], frame: '#111111', frameWidth: 2, tickColor: '#111', tickWidth: 1,
  ticks: [['x', 'bottom', seq(6, 354, 6), 5], ['x', 'bottom', seq(60, 300, 60), 9], ['x', 'top', seq(6, 354, 6), 5], ['x', 'top', seq(60, 300, 60), 9],
          ['y', 'left', seq(0.1, 4.9, 0.1), 20], ['y', 'left', [1, 2, 3, 4], 40], ['y', 'right', seq(0.1, 4.9, 0.1), 20], ['y', 'right', [1, 2, 3, 4], 40]] });
const D4 = addPanel({ box: [1536, 1494, 1151, 151], x: [0, 360], y: [-2000, 2000], frame: '#111111', frameWidth: 2, tickColor: '#111', tickWidth: 1,
  ticks: [['x', 'bottom', seq(6, 354, 6), 5], ['x', 'bottom', seq(60, 300, 60), 9], ['x', 'top', seq(6, 354, 6), 5], ['x', 'top', seq(60, 300, 60), 9],
          ['y', 'left', seq(-1900, 1900, 100), 20], ['y', 'left', [-1000, 0, 1000], 40], ['y', 'right', seq(-1900, 1900, 100), 20], ['y', 'right', [-1000, 0, 1000], 40]] });

// ===================== SERIES =====================
const faint = '#e3e3e3';
addLine(A1, pairs(tlSeiTemp), '#000', 3.4, { color: faint, xs: [0, 60, 120, 180, 240], width: 1.5 });
addLine(A2, uniform(tlIrmTempStart, 1, tlIrmTemp), '#000', 2.6);
addLine(A3, segments(tlFlowSegStart, tlIrmFlowSegs), RED, 2.6, { color: faint, xs: tlFlowTicks, ys: [-2000, -1500, -1000, -500, 0, 500, 1000] });
addLine(A3, segments(tlFlowSegStart, tlSeiFlowSegs), '#000', 3.4);

addLine(B1, uniform(trSeiTempStart, 0.5, trSeiTemp), '#000', 3.4);
addLine(B2, uniform(trIrmTempStart, 0.5, trIrmTemp), '#000', 2.8);
addLine(B3, uniform(trFlowStart, 0.5, trIrmFlow), RED, 2.6, { color: faint, xs: trTimeTicks, ys: [-1500, -1000, -500, 0, 500, 1000] });
addLine(B3, uniform(trFlowStart, 0.5, trSeiFlow), '#000', 3.8);

addLine(C1, uniform(blSeiTempStart, 1, blSeiTemp), '#000', 3.4, { color: faint, xs: blTimeTicks, ys: [3.5, 4, 4.5, 5, 5.5] });
addLine(C2, uniform(blIrmTempStart, 1, blIrmTemp), '#000', 2.8);
addLine(C3, segments(blFlowSegStart, blIrmFlowSegs), RED, 2.6, { color: faint, xs: blTimeTicks, ys: [-2000, -1500, -1000, -500, 0, 500] });
addLine(C3, segments(blFlowSegStart, blSeiFlowSegs), '#000', 3.4);

addLine(D1, uniform(brSeiStart, brSeiStep, brSeiTemp), '#000', 3.4, { color: '#bdbdbd', xs: brUtTicks, ys: [4] });
addLine(D2, uniform(brSeiStart, brSeiStep, brSeiFlow), '#000', 3.8, { color: '#bdbdbd', xs: brUtTicks, ys: [0] });
addLine(D3, uniform(brIrmStart, brIrmStep, brIrmTemp), '#000', 3.2);
addLine(D4, uniform(brIrmStart, brIrmStep, brIrmFlow), '#000', 3.2);

const chart = echarts.init(document.getElementById('chart'), null, { renderer: 'canvas' });
chart.setOption(option);

// ===================== TEXT & DECORATION =====================
const mctx = document.createElement('canvas').getContext('2d');
const measure = (text, font) => { mctx.font = font; return mctx.measureText(text).width; };
const els = [];

function flat(text, x, y, font, sx, color, align, z) {
  return { type: 'text', x, y, scaleX: sx, z: z || 50, silent: true,
    style: { text, font, fill: color, align: align || 'center', verticalAlign: 'middle' } };
}
function fit(text, cx, cy, font, width, color) {
  return flat(text, cx, cy, font, width / measure(text, font), color, 'center');
}
function xLabels(p, vals, labels, y, font, sx, color) {
  vals.forEach((v, i) => {
    const pt = chart.convertToPixel({ xAxisIndex: p.xi, yAxisIndex: p.yi }, [v, p.y[0]]);
    els.push(flat(labels[i], pt[0], y, font, sx, color, 'center'));
  });
}
function yLabels(p, vals, labels, rightX, font, sx, color) {
  vals.forEach((v, i) => {
    const pt = chart.convertToPixel({ xAxisIndex: p.xi, yAxisIndex: p.yi }, [p.x[0], v]);
    els.push(flat(labels[i], rightX, pt[1], font, sx, color, 'right'));
  });
}

const MAT = '#7d7d7d';
const idl = s => s + 'px "DejaVu Sans"';
const bold = s => 'bold ' + s + 'px "Liberation Sans", Arial, sans-serif';

// tick labels
const a1Y = [3, 4, 5, 6, 7, 8];
yLabels(A1, a1Y, a1Y.map(String), 258, bold(17), 1.15, MAT);
const a3Y = [1000, 500, 0, -500, -1000, -1500, -2000];
yLabels(A3, a3Y, a3Y.map(minusLabel), 308, bold(18), 1.15, MAT);
xLabels(A3, tlFlowTicks, tlFlowTickLabels, 887, bold(18), 1.1, MAT);
const a2Y = [0, 1, 2, 3, 4, 5];
yLabels(A2, a2Y, a2Y.map(String), 253, idl(11), 2.0, '#222');
xLabels(A2, tlIrmTicks, tlIrmTickLabels, 590, idl(11), 2.0, '#222');

const b1Y = [3, 3.5, 4, 4.5, 5, 5.5, 6];
yLabels(B1, b1Y, b1Y.map(v => v.toFixed(1)), 1527, bold(19), 1.3, MAT);
xLabels(B1, trTimeTicks, trTimeLabels, 267, bold(20), 1.2, MAT);
const b2Y = [0, 2, 4, 6, 8, 10, 12, 14];
yLabels(B2, b2Y, b2Y.map(String), 1503, idl(12), 2.3, '#222');
xLabels(B2, trIrmTicks, trIrmTickLabels, 590, idl(12), 2.4, '#222');
const b3Y = [1000, 500, 0, -500, -1000, -1500];
yLabels(B3, b3Y, b3Y.map(minusLabel), 1527, bold(16), 1.55, MAT);
xLabels(B3, trTimeTicks, trTimeLabels, 868, bold(17), 1.45, MAT);

const c1Y = [3, 3.5, 4, 4.5, 5, 5.5, 6];
yLabels(C1, c1Y, c1Y.map(v => v.toFixed(1)), 312, bold(15.5), 1.4, MAT);
xLabels(C1, blTimeTicks, blTimeLabels, 1145, bold(18), 1.2, MAT);
const c2Y = [0, 1, 2, 3, 4, 5];
yLabels(C2, c2Y, c2Y.map(String), 278, idl(8), 2.5, '#222');
xLabels(C2, blIrmTicks, blIrmTickLabels, 1401, idl(10), 2.5, '#222');
const c3Y = [500, 0, -500, -1000, -1500, -2000];
yLabels(C3, c3Y, c3Y.map(minusLabel), 299, bold(15.5), 1.4, MAT);
xLabels(C3, blTimeTicks, blTimeLabels, 1631, bold(17), 1.2, MAT);

const d1Y = [3, 4, 5, 6, 7];
yLabels(D1, d1Y, d1Y.map(String), 1525, bold(12), 1.6, MAT);
const d2Y = [2000, 1500, 1000, 500, 0, -500, -1000];
yLabels(D2, d2Y, d2Y.map(minusLabel), 1525, bold(12), 1.65, MAT);
xLabels(D2, brUtTicks, brUtLabels, 1249, bold(13), 1.5, MAT);
const d3Y = [0, 1, 2, 3, 4, 5];
yLabels(D3, d3Y, d3Y.map(String), 1517, idl(8), 3.5, '#222');
xLabels(D3, brIrmTicks, brIrmTickLabels, 1455, idl(9), 3.3, '#222');
const d4Y = [2000, 1000, 0, -1000, -2000];
yLabels(D4, d4Y, d4Y.map(String), 1517, idl(9), 3.3, '#222');
xLabels(D4, brIrmTicks, brIrmTickLabels, 1652, idl(9), 3.3, '#222');

// panel titles and axis names of the moment plots
const vsaTitle = '2nd Moment VSA [300 360], TOF>40, X';
els.push(fit(vsaTitle, 778, 317, idl(11), 479, '#222'));
els.push(fit('MMSS(mm:ss)', 778, 603, idl(11), 173, '#222'));
els.push(fit(vsaTitle, 2052, 304, idl(12), 594, '#222'));
els.push(fit('MMSS(mm:ss)', 2052, 603, idl(12), 221, '#222'));
els.push(fit(vsaTitle, 773, 1188, idl(10), 534, '#222'));
els.push(fit('MMSS(mm:ss)', 772, 1411, idl(10), 196, '#222'));
els.push(fit(vsaTitle, 2110, 1275, idl(9), 638, '#222'));
els.push(fit('MMSS(mm:ss)', 2110, 1462, idl(9), 240, '#222'));
els.push(fit('VSA [300 360], TOF>40', 2114, 1486, idl(9), 390, '#222'));
els.push(fit('MMSS(mm:ss)', 2110, 1662, idl(9), 240, '#222'));
els.push(flat('UT', 2101, 898, bold(17), 1.45, MAT));
els.push(flat('UT', 786, 1658, bold(17), 1.2, MAT));
els.push(flat('UT', 789, 922, bold(17), 1.2, MAT));
els.push({ type: 'text', x: 1485, y: 1006, rotation: Math.PI / 2, z: 50, silent: true,
  style: { text: 'PerpB FWHM Profile', font: bold(12), fill: '#8a8a8a', align: 'center', verticalAlign: 'middle' } });

// rotated quantity names
function side(text, cx, cy, lh, size) {
  els.push({ type: 'text', x: cx, y: cy, rotation: Math.PI / 2, z: 40, silent: true,
    style: { text, font: size + 'px "DejaVu Serif", serif', fill: '#000', align: 'center', verticalAlign: 'middle', lineHeight: lh } });
}
side('perpendicular\nFWHM', 171, 168, 60, 42);
side('2nd\nMoment', 156, 449, 64, 43);
side('upflow\nvelocity', 179, 743, 59, 43);
side('perpendicular\nFWHM', 1420, 135, 53, 42);
side('2nd\nMoment', 1400, 437, 64, 43);
side('upflow\nvelocity', 1399, 725, 66, 43);
side('perpendicular\nFWHM', 202, 1034, 53, 42);
side('2nd\nMoment', 190, 1304, 64, 43);
side('upflow\nvelocity', 174, 1520, 62, 43);
side('upflow\nvelocity', 1392, 1153, 68, 43);
side('2nd\nMoment', 1423, 1352, 63, 43);
side('upflow\nvelocity', 1390, 1553, 32, 35);
// cropped edge of the lower-right pasted label
els.push({ type: 'rect', z: 45, silent: true, shape: { x: 1343, y: 1478, width: 28, height: 140 }, style: { fill: '#ffffff' } });

// big panel annotations
const BIG = 'bold 53px "Liberation Serif", "Times New Roman", serif';
function big(text, x, y) {
  els.push({ type: 'text', x, y, z: 60, silent: true,
    style: { text, font: BIG, fill: '#000', align: 'left', verticalAlign: 'middle', rich: { r: { font: BIG, fill: '#ff0000' } } } });
}
big('SEI temperature', 665, 95);
big('IRM temperature', 665, 391);
big('SEI and {r|IRM} flow', 620, 824);
big('SEI temperature', 2101, 91);
big('IRM temperature', 2094, 423);
big('SEI and {r|IRM} flow', 2177, 821);
big('SEI temperature', 355, 981);
big('IRM temperature', 309, 1268);
big('SEI and {r|IRM} flow', 355, 1590);
big('SEI temperature', 2172, 975);
big('SEI flow', 1875, 1120);
big('IRM temperature', 2203, 1330);
big('IRM flow', 1875, 1618);

// title glyphs above the page edge
els.push({ type: 'text', x: 1133, y: -30, z: 60, silent: true, style: { text: 'g', font: 'bold 64px "Liberation Serif", serif', fill: '#8e1414', align: 'center', verticalAlign: 'middle' } });
els.push({ type: 'text', x: 2249, y: -30, z: 60, silent: true, style: { text: 'p', font: 'bold 64px "Liberation Serif", serif', fill: '#8e1414', align: 'center', verticalAlign: 'middle' } });

// faint edges of pasted sub-figures
const edge = (x1, y1, x2, y2) => els.push({ type: 'line', z: 1, silent: true, shape: { x1, y1, x2, y2 }, style: { stroke: '#ececec', lineWidth: 2 } });
edge(145, 625, 1316, 625);
edge(1490, 276, 2682, 276);
edge(269, 1168, 1296, 1168);
edge(1296, 1168, 1296, 1427);

// highlighted intervals
const frame = (x, y, w, h, lw) => els.push({ type: 'rect', z: 100, silent: true, shape: { x, y, width: w, height: h },
  style: { fill: 'none', stroke: 'rgba(160,25,10,0.52)', lineWidth: lw } });
frame(376.5, 23.5, 233, 865, 9);
frame(985.5, 25.5, 124, 866, 9);
frame(1899.5, 29.5, 144, 866, 9);
frame(646, 948, 359, 709, 10);
frame(1648, 936, 176, 700, 10);

// quadrant separators
els.push({ type: 'rect', z: 110, silent: true, shape: { x: 52, y: 0, width: 2, height: 1673 }, style: { fill: '#8a8a8a' } });
els.push({ type: 'polygon', z: 110, silent: true, shape: { points: [[53, 912], [2720, 903], [2720, 916], [53, 925]] }, style: { fill: '#000' } });
els.push({ type: 'rect', z: 110, silent: true, shape: { x: 1333, y: 38, width: 10, height: 1635 }, style: { fill: '#000' } });

chart.setOption({ graphic: { elements: els } });
</script>
</body>
</html>
